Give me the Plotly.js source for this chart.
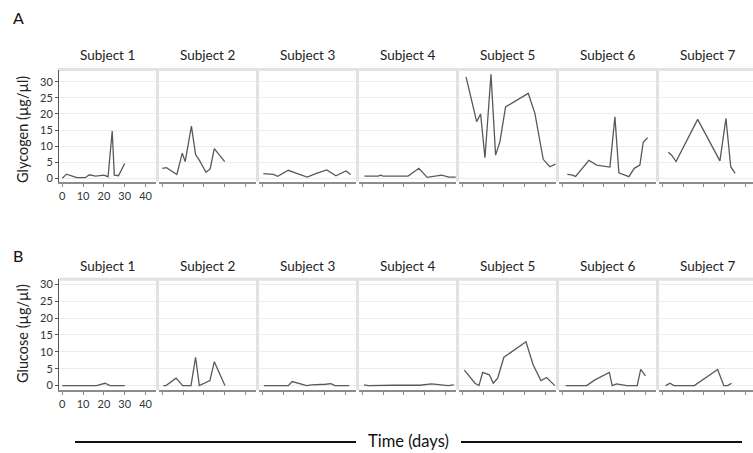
<!DOCTYPE html>
<html><head><meta charset="utf-8">
<script src="https://cdn.plot.ly/plotly-3.0.1.min.js"></script>
<style>html,body{margin:0;padding:0;background:#fff}</style>
</head><body><div id="chart" style="width:753px;height:453px"></div>
<script>
const subjects = ['Subject 1','Subject 2','Subject 3','Subject 4','Subject 5','Subject 6','Subject 7'];
const xTicks = [0,10,20,30,40];
const yTicks = [0,5,10,15,20,25,30];

const glycogenDays = [
  [0,2,7,11,13,16,20,22,24,25,27,30],
  [0,2,7,9.6,11,14,16,18,21,23,25,30],
  [0.5,5.3,7.4,12.5,16.5,21.6,26,31,35.4,40.2,42.5],
  [1,7.7,8.8,10,22,27.2,31.2,34.9,38.1,41.7,44.9],
  [1.8,6.9,8.8,10.9,13.8,16,18.1,20.8,31.7,34.9,38.9,42.1,44.8],
  [2.4,4.5,6.4,12.8,16.5,22.9,25.3,27.2,32,34.6,37.3,38.9,41],
  [2.9,4.5,6.6,17,27.7,30.6,32.9,35]
];
const glycogenValues = [
  [0,1.3,0.2,0.2,1.1,0.7,1,0.5,14.7,1,0.8,4.6],
  [3.1,3.3,1.2,7.8,5.2,16.2,7.4,5.4,1.9,2.9,9.2,5.2],
  [1.45,1.2,0.6,2.5,1.55,0.4,1.55,2.6,0.8,2.3,1.2],
  [0.7,0.7,1.0,0.7,0.7,3.1,0.3,0.6,1,0.4,0.4],
  [31.5,17.6,20,6.4,32.3,7.2,11.4,22.2,26.4,20.2,5.9,3.6,4.4],
  [1.2,1.1,0.6,5.6,4.1,3.5,19.1,1.7,0.5,3.1,4.1,11.2,12.6],
  [8.1,7.2,5.2,18.3,5.4,18.6,3.6,1.55]
];
const glucoseDays = [
  [0,2,7,11,13,16.5,20.5,23,25,27,30],
  [0.5,1.8,6.6,9.8,13.8,16,17.8,22.9,25,30.1],
  [0.8,12.5,14.4,21.3,23.7,28.5,30.4,33,34.9,41.8],
  [0.8,2.9,14.9,21.3,27.7,33.3,37.3,41.3,44],
  [1,6.1,8,9.8,13,14.9,17,20,30.6,34.1,37.8,40.5,44.5],
  [1.6,6.1,9.8,11.7,15.7,22.6,24,26.1,30.9,36,37.7,40],
  [1.6,3.7,5.6,15.4,26.6,29.6,31.4,33.3]
];
const glucoseValues = [
  [0,0,0,0,0,0,0.7,0,0,0,0],
  [0,0,2.2,0,0,8.4,0,1.5,7.1,0],
  [0,0,1.2,0,0.2,0.2,0.4,0.6,0,0],
  [0.2,0,0.1,0.2,0.1,0.5,0.2,0,0.2],
  [4.6,0.7,0,3.9,3.2,0.7,2.2,8.4,13,6.1,1.5,2.4,0],
  [0,0,0.2,0,1.7,3.9,0,0.5,0,0,4.8,2.9],
  [0,0.7,0,0,4.8,0,0,0.7]
];

const W = 753, H = 453;
const px = v => v / W;
const py = v => 1 - v / H;
const FONT = 'Lato, "Open Sans", sans-serif';

const rows = [
  {days: glycogenDays, vals: glycogenValues, top: 69.5, bottom: 181.7, yr: [-1.05, 33.8], titleY: 55, label: 'A', labelY: 18, ytitle: 'Glycogen (µg/µl)', ytitleY: 130},
  {days: glucoseDays, vals: glucoseValues, top: 279.3, bottom: 390, yr: [-1.3, 31.5], titleY: 266, label: 'B', labelY: 255, ytitle: 'Glucose (µg/µl)', ytitleY: 334}
];

const data = [];
const layout = {
  width: W, height: H, margin: {l:0, r:0, t:0, b:0},
  paper_bgcolor: '#fff', plot_bgcolor: 'rgba(0,0,0,0)',
  showlegend: false, font: {family: FONT, color: '#222'},
  annotations: [], shapes: []
};

rows.forEach((row, r) => {
  for (let i = 0; i < 7; i++) {
    const k = r * 7 + i + 1;
    const left = 59 + 100 * i;
    const right = Math.min(156 + 100 * i, 753);
    const zeroPx = 62.3 + 100 * i;
    const xr = [(left - zeroPx) / 2.08, (right - zeroPx) / 2.08];
    data.push({
      x: row.days[i], y: row.vals[i], type: 'scatter', mode: 'lines',
      xaxis: 'x' + k, yaxis: 'y' + k,
      line: {color: '#595959', width: 1.3}, hoverinfo: 'skip'
    });
    layout['xaxis' + k] = {
      domain: [px(left), px(right)], range: xr, anchor: 'y' + k,
      showgrid: false, zeroline: false, showline: true, linecolor: '#8c8c8c', linewidth: 2,
      ticks: 'outside', ticklen: 3, tickcolor: '#8c8c8c', tickwidth: 1,
      tickmode: 'array', tickvals: xTicks, showticklabels: i === 0,
      tickfont: {size: 11, color: '#333', family: FONT}, fixedrange: true
    };
    layout['yaxis' + k] = {
      domain: [py(row.bottom), py(row.top)], range: row.yr, anchor: 'x' + k,
      showgrid: true, gridcolor: '#ececec', gridwidth: 1, zeroline: false,
      showline: i === 0, linecolor: '#555', linewidth: 1,
      ticks: i === 0 ? 'outside' : '', ticklen: 3, tickcolor: '#555',
      tickmode: 'array', tickvals: yTicks, showticklabels: i === 0,
      tickfont: {size: 11, color: '#333', family: FONT}, fixedrange: true
    };
    layout.annotations.push({
      text: subjects[i], xref: 'paper', yref: 'paper',
      x: px(107.5 + 100 * i), y: py(row.titleY), showarrow: false,
      xanchor: 'center', yanchor: 'middle', font: {size: 13.5, color: '#222', family: FONT}
    });
    if (i < 6) {
      layout.shapes.push({type: 'line', xref: 'paper', yref: 'paper', layer: 'below',
        x0: px(157.5 + 100 * i), x1: px(157.5 + 100 * i), y0: py(row.bottom), y1: py(row.top),
        line: {color: '#e2e2e2', width: 3}});
    }
  }
  layout.shapes.push({type: 'line', xref: 'paper', yref: 'paper', layer: 'below',
    x0: px(58), x1: px(753), y0: py(row.top), y1: py(row.top),
    line: {color: '#e2e2e2', width: 3}});
  layout.annotations.push({
    text: row.label, xref: 'paper', yref: 'paper', x: px(18), y: py(row.labelY),
    showarrow: false, xanchor: 'center', yanchor: 'middle', font: {size: 16, color: '#111', family: FONT}
  });
  layout.annotations.push({
    text: row.ytitle, xref: 'paper', yref: 'paper', x: px(22), y: py(row.ytitleY),
    showarrow: false, textangle: -90, xanchor: 'center', yanchor: 'middle',
    font: {size: 14.5, color: '#222', family: FONT}
  });
});

layout.annotations.push({
  text: 'Time (days)', xref: 'paper', yref: 'paper', x: px(408), y: py(441),
  showarrow: false, xanchor: 'center', yanchor: 'middle', font: {size: 16.5, color: '#111', family: FONT}
});
layout.shapes.push({type: 'line', xref: 'paper', yref: 'paper', x0: px(75), x1: px(356), y0: py(442), y1: py(442), line: {color: '#111', width: 2}});
layout.shapes.push({type: 'line', xref: 'paper', yref: 'paper', x0: px(461), x1: px(742), y0: py(442), y1: py(442), line: {color: '#111', width: 2}});

Plotly.newPlot('chart', data, layout, {displayModeBar: false, staticPlot: true});
</script>
</body></html>
